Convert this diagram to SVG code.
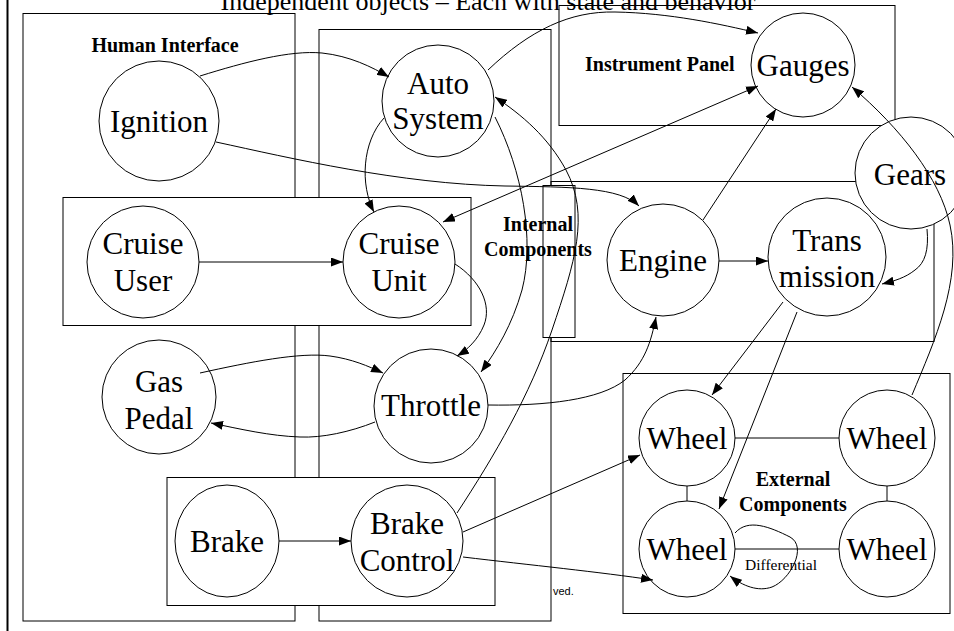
<svg xmlns="http://www.w3.org/2000/svg" width="954" height="631" viewBox="0 0 954 631">
  <style>
    .frame { fill: none; stroke: #000; stroke-width: 1; }
    .cover { fill: #fff; stroke: #000; stroke-width: 1; }
    .node { fill: #fff; stroke: #000; stroke-width: 1; }
    .name { font-family: "Liberation Serif", "Times New Roman", serif; font-size: 31px; text-anchor: middle; fill: #000; }
    .group { font-family: "Liberation Serif", "Times New Roman", serif; font-size: 20px; font-weight: bold; fill: #000; }
    .title { font-family: "Liberation Serif", "Times New Roman", serif; font-size: 26px; text-anchor: middle; fill: #000; }
    .edge { fill: none; stroke: #000; stroke-width: 1; }
    .arrow { marker-end: url(#ah); }
    .both { marker-start: url(#ah); marker-end: url(#ah); }
  </style>
  <defs>
    <marker id="ah" viewBox="0 0 12 9" refX="12" refY="4.5" markerWidth="12" markerHeight="9" markerUnits="userSpaceOnUse" orient="auto-start-reverse">
      <path d="M0,0 L12,4.5 L0,9 z" fill="#000"/>
    </marker>
  </defs>

  <rect width="954" height="631" fill="#fff"/>

  <!-- page title and left rule -->
  <text class="title" x="488" y="10">Independent objects – Each with state and behavior</text>
  <line x1="7.5" y1="0" x2="7.5" y2="631" stroke="#000" stroke-width="2"/>

  <!-- grouping boxes -->
  <g id="human-interface">
    <rect class="frame" x="23" y="13.5" width="272" height="607.5"/>
  </g>
  <g id="internal-components">
    <rect class="frame" x="319" y="29.5" width="232" height="591.5"/>
    <rect class="frame" x="551" y="181.5" width="383" height="160"/>
    <rect class="cover" x="543" y="185.5" width="32" height="152"/>
  </g>
  <g id="instrument-panel">
    <rect class="frame" x="559" y="5.5" width="336" height="120"/>
  </g>
  <g id="external-components">
    <rect class="frame" x="623" y="373.5" width="327" height="240"/>
  </g>
  <g id="cruise-box">
    <rect class="cover" x="63" y="197.5" width="408" height="128"/>
  </g>
  <g id="brake-box">
    <rect class="cover" x="167" y="477.5" width="328" height="128"/>
  </g>

  <!-- group labels -->
  <g id="group-labels">
    <text class="group" x="165" y="52" text-anchor="middle">Human Interface</text>
    <text class="group" x="538" y="231" text-anchor="middle">Internal</text>
    <text class="group" x="538" y="256" text-anchor="middle">Components</text>
    <text class="group" x="585" y="71">Instrument Panel</text>
    <text class="group" x="793" y="486" text-anchor="middle">External</text>
    <text class="group" x="793" y="511" text-anchor="middle">Components</text>
    <text x="553" y="595" font-family="Liberation Sans, Arial, sans-serif" font-size="11" fill="#000">ved.</text>
  </g>

  <!-- objects -->
  <g id="ignition">
    <circle class="node" cx="159" cy="121" r="60"/>
    <text class="name" x="159" y="132">Ignition</text>
  </g>
  <g id="auto-system">
    <circle class="node" cx="438" cy="101" r="56"/>
    <text class="name" x="438" y="94">Auto</text>
    <text class="name" x="438" y="129">System</text>
  </g>
  <g id="gauges">
    <circle class="node" cx="803" cy="65" r="52"/>
    <text class="name" x="803" y="76">Gauges</text>
  </g>
  <g id="cruise-user">
    <circle class="node" cx="143" cy="262" r="56"/>
    <text class="name" x="143" y="254">Cruise</text>
    <text class="name" x="143" y="291">User</text>
  </g>
  <g id="cruise-unit">
    <circle class="node" cx="399" cy="262" r="56"/>
    <text class="name" x="399" y="254">Cruise</text>
    <text class="name" x="399" y="291">Unit</text>
  </g>
  <g id="gas-pedal">
    <circle class="node" cx="159" cy="397" r="57"/>
    <text class="name" x="159" y="392">Gas</text>
    <text class="name" x="159" y="429">Pedal</text>
  </g>
  <g id="throttle">
    <circle class="node" cx="431" cy="406" r="57"/>
    <text class="name" x="431" y="416">Throttle</text>
  </g>
  <g id="brake">
    <ellipse class="node" cx="227" cy="541" rx="52" ry="56"/>
    <text class="name" x="227" y="552">Brake</text>
  </g>
  <g id="brake-control">
    <circle class="node" cx="407" cy="541" r="56"/>
    <text class="name" x="407" y="534">Brake</text>
    <text class="name" x="407" y="571">Control</text>
  </g>
  <g id="engine">
    <circle class="node" cx="663" cy="260" r="56"/>
    <text class="name" x="663" y="271">Engine</text>
  </g>
  <g id="transmission">
    <circle class="node" cx="827" cy="257" r="59"/>
    <text class="name" x="827" y="251">Trans</text>
    <text class="name" x="827" y="287">mission</text>
  </g>
  <g id="gears">
    <circle class="node" cx="911" cy="173" r="56"/>
    <text class="name" x="910" y="185">Gears</text>
  </g>
  <g id="wheel-fl">
    <circle class="node" cx="687" cy="438" r="48"/>
    <text class="name" x="687" y="449">Wheel</text>
  </g>
  <g id="wheel-fr">
    <circle class="node" cx="887" cy="438" r="48"/>
    <text class="name" x="887" y="449">Wheel</text>
  </g>
  <g id="wheel-rl">
    <circle class="node" cx="687" cy="549" r="48"/>
    <text class="name" x="687" y="560">Wheel</text>
  </g>
  <g id="wheel-rr">
    <circle class="node" cx="887" cy="549" r="48"/>
    <text class="name" x="887" y="560">Wheel</text>
  </g>

  <!-- connectors -->
  <g id="connectors">
    <path class="edge arrow" d="M200,76 C245,62 290,50 322,53 C350,56 372,67 389,77"/>
    <path class="edge arrow" d="M216,142 C290,158 400,184 505,186 C570,187 620,187 639,206"/>
    <path class="edge arrow" d="M488,70 C530,30 570,11 615,12 C670,13 720,24 758,33"/>
    <path class="edge both" d="M443,222 L758,86"/>
    <path class="edge arrow" d="M384,118 C362,142 360,185 374,212"/>
    <path class="edge arrow" d="M495,117 C522,170 535,240 522,290 C512,325 497,350 481,372"/>
    <path class="edge arrow" d="M457,513 C495,455 530,395 552,330 C575,262 590,215 566,170 C548,137 522,115 495,97"/>
    <path class="edge arrow" d="M199,262 L343,262"/>
    <path class="edge arrow" d="M455,264 C480,280 492,305 484,325 C478,340 467,350 457,356"/>
    <path class="edge arrow" d="M200,373 C250,362 300,352 330,356 C352,359 368,366 383,373"/>
    <path class="edge arrow" d="M375,422 C350,432 322,438 300,437 C270,436 240,429 211,423"/>
    <path class="edge arrow" d="M488,405 C545,406 600,400 625,380 C645,362 651,342 656,317"/>
    <path class="edge arrow" d="M719,261 L768,261"/>
    <path class="edge arrow" d="M703,220 L776,109"/>
    <path class="edge arrow" d="M927,229 C929,250 925,263 915,270 C905,278 894,281 882,284"/>
    <path class="edge arrow" d="M783,302 L712,395"/>
    <path class="edge arrow" d="M797,312 L719,509"/>
    <path class="edge arrow" d="M912,395 C935,340 962,280 950,225 C940,178 900,128 852,87"/>
    <path class="edge arrow" d="M279,541 L351,541"/>
    <path class="edge arrow" d="M463,532 L640,455"/>
    <path class="edge arrow" d="M463,557 C530,565 600,572 653,580"/>
    <path class="edge" d="M735,438 L839,438"/>
    <path class="edge" d="M735,549 L839,549"/>
    <path class="edge" d="M687,486 L687,501"/>
    <path class="edge" d="M887,486 L887,501"/>
    <path class="edge arrow" d="M735,533 C748,518 770,527 790,537 C808,547 790,580 772,587 C758,592 743,586 730,576"/>
    <text x="745" y="570" font-family="Liberation Serif, Times New Roman, serif" font-size="15.5" fill="#000">Differential</text>
  </g>
</svg>
